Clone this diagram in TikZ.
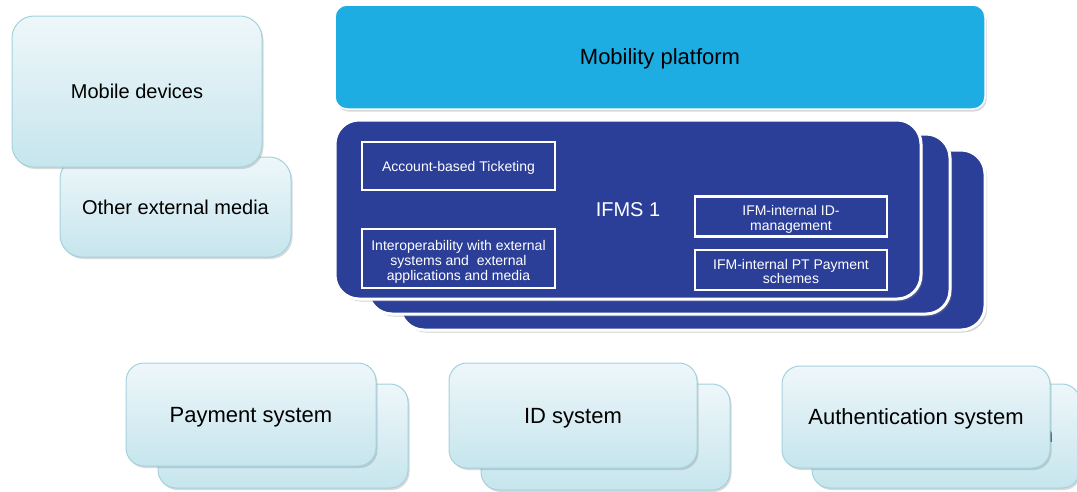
\documentclass[tikz,border=0pt]{standalone}
\usepackage{fontspec}
\setmainfont{Liberation Sans}
\usetikzlibrary{shadows}
\definecolor{lightT}{HTML}{EEF7FA}
\definecolor{lightB}{HTML}{C6E5ED}
\definecolor{lightE}{HTML}{A3D2DC}
\definecolor{ifms}{HTML}{2C3F98}
\definecolor{mob}{HTML}{1DADE3}
\newcommand{\lowered}[1]{\raisebox{-3.5pt}[\height][\depth]{#1}}
\tikzset{
  card/.style={draw=lightE, line width=1pt, top color=lightT, bottom color=lightB,
    inner sep=0pt, text depth=0pt, font=\fontsize{22}{26}\selectfont,
    drop shadow={opacity=0.3, shadow xshift=1.5pt, shadow yshift=-2pt}},
  leftcard/.style={card, rounded corners=22pt, font=\fontsize{20}{24}\selectfont},
  botcard/.style={card, rounded corners=18pt},
  ifmscard/.style={draw=white, line width=3pt, fill=ifms, rounded corners=24pt,
    inner sep=0pt, text depth=0pt, text=white, font=\fontsize{20}{24}\selectfont,
    drop shadow={opacity=0.35, shadow xshift=2pt, shadow yshift=-2.5pt}},
  inbox/.style={draw=white, line width=2.5pt, fill=ifms, inner sep=0pt, text=white,
    align=center, font=\fontsize{14}{15}\selectfont},
  platform/.style={draw=white, line width=1.5pt, fill=mob, rounded corners=12pt,
    inner sep=0pt, text depth=0pt, font=\fontsize{22}{26}\selectfont,
    drop shadow={opacity=0.3, shadow xshift=1.5pt, shadow yshift=-2.5pt}},
}
\begin{document}
\begin{tikzpicture}[x=1pt, y=-1pt]
\useasboundingbox (0,0) rectangle (1077,491);
\clip (0,0) rectangle (1077,491);
% left group
\node[leftcard, minimum width=231pt, minimum height=100pt] (other) at (175.5,207) {Other external media};
\node[leftcard, minimum width=250pt, minimum height=151pt] (mobile) at (137,91.5) {Mobile devices};
% mobility platform
\node[platform, minimum width=650pt, minimum height=104pt] (platform) at (660,57) {Mobility platform};
% IFMS stack
\node[ifmscard, minimum width=585pt, minimum height=180pt] (ifms3) at (692.5,240) {};
\node[ifmscard, minimum width=582pt, minimum height=180pt] (ifms2) at (659,224) {};
\node[ifmscard, minimum width=586pt, minimum height=179pt] (ifms1) at (628,209.5) {IFMS 1};
\node[inbox, text depth=0pt, minimum width=193pt, minimum height=48pt] (abt) at (458.5,166) {Account-based Ticketing};
\node[inbox, minimum width=193pt, minimum height=59pt] (inter) at (458.5,258.5)
  {\lowered{\begin{tabular}{@{}c@{}}Interoperability with external\\[0pt]systems and~~external\\[0pt]applications and media\end{tabular}}};
\node[inbox, minimum width=192pt, minimum height=40pt] (idm) at (791,216.5)
  {\lowered{\begin{tabular}{@{}c@{}}IFM-internal ID-\\[-0.5pt]management\end{tabular}}};
\node[inbox, minimum width=192pt, minimum height=40pt] (pt) at (791,270)
  {\lowered{\begin{tabular}{@{}c@{}}IFM-internal PT Payment\\[-0.5pt]schemes\end{tabular}}};
% bottom groups
\node[botcard, minimum width=250pt, minimum height=104pt] (pay2) at (283,436) {};
\node[botcard, minimum width=250pt, minimum height=103pt] (pay1) at (251,414.5) {Payment system};
\node[botcard, minimum width=249pt, minimum height=106pt] (id2) at (605.5,437) {};
\node[botcard, minimum width=248pt, minimum height=105pt] (id1) at (573,415.5) {ID system};
\node[botcard, minimum width=268pt, minimum height=104pt] (auth2) at (946,436) {};
\node[anchor=base, inner sep=0pt, font=\fontsize{22}{26}\selectfont] (peek) at (1047,442) {n};
\node[botcard, minimum width=268pt, minimum height=102pt] (auth1) at (916,417) {Authentication system};
\end{tikzpicture}
\end{document}
